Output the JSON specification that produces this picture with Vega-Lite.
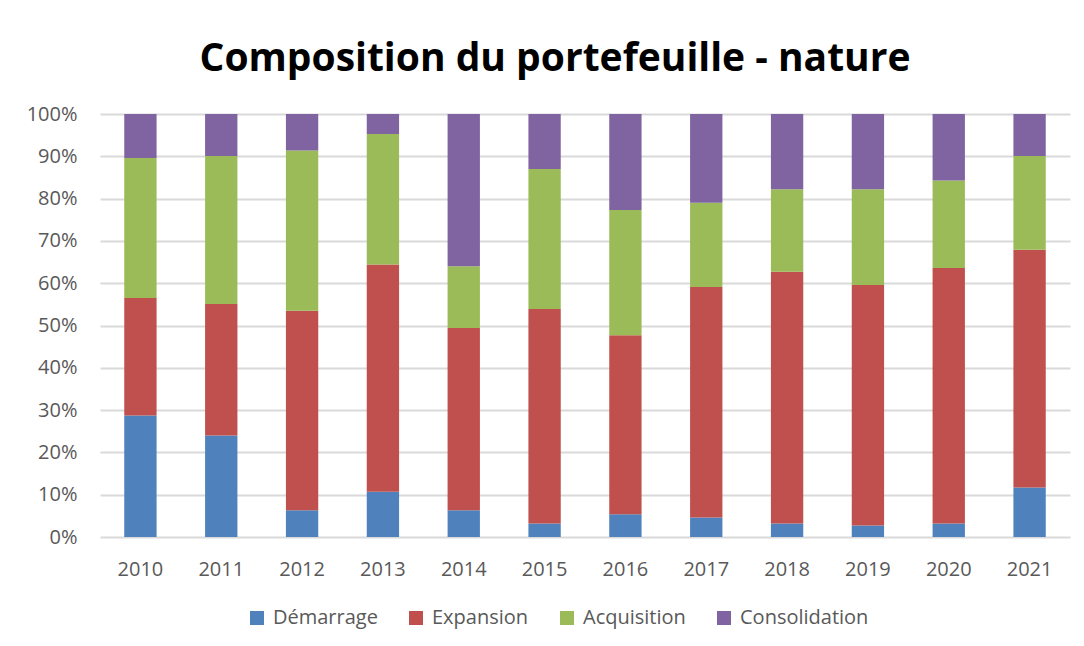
{
  "$schema": "https://vega.github.io/schema/vega-lite/v6.json",
  "autosize": "none",
  "width": 970,
  "height": 423,
  "padding": {"left": 100, "top": 114, "right": 14, "bottom": 109},
  "background": "white",
  "title": {
    "text": "Composition du portefeuille - nature",
    "font": "Open Sans",
    "fontSize": 39,
    "fontWeight": "bold",
    "color": "#000000",
    "anchor": "middle",
    "dx": -30,
    "offset": 25
  },
  "data": {
    "values": [
      {"annee": "2010", "nature": "Démarrage", "rang": 1, "part": 28.7},
      {"annee": "2010", "nature": "Expansion", "rang": 2, "part": 27.8},
      {"annee": "2010", "nature": "Acquisition", "rang": 3, "part": 33.1},
      {"annee": "2010", "nature": "Consolidation", "rang": 4, "part": 10.4},
      {"annee": "2011", "nature": "Démarrage", "rang": 1, "part": 24.0},
      {"annee": "2011", "nature": "Expansion", "rang": 2, "part": 31.1},
      {"annee": "2011", "nature": "Acquisition", "rang": 3, "part": 35.0},
      {"annee": "2011", "nature": "Consolidation", "rang": 4, "part": 9.9},
      {"annee": "2012", "nature": "Démarrage", "rang": 1, "part": 6.3},
      {"annee": "2012", "nature": "Expansion", "rang": 2, "part": 47.2},
      {"annee": "2012", "nature": "Acquisition", "rang": 3, "part": 37.9},
      {"annee": "2012", "nature": "Consolidation", "rang": 4, "part": 8.6},
      {"annee": "2013", "nature": "Démarrage", "rang": 1, "part": 10.7},
      {"annee": "2013", "nature": "Expansion", "rang": 2, "part": 53.7},
      {"annee": "2013", "nature": "Acquisition", "rang": 3, "part": 30.9},
      {"annee": "2013", "nature": "Consolidation", "rang": 4, "part": 4.7},
      {"annee": "2014", "nature": "Démarrage", "rang": 1, "part": 6.3},
      {"annee": "2014", "nature": "Expansion", "rang": 2, "part": 43.1},
      {"annee": "2014", "nature": "Acquisition", "rang": 3, "part": 14.6},
      {"annee": "2014", "nature": "Consolidation", "rang": 4, "part": 36.0},
      {"annee": "2015", "nature": "Démarrage", "rang": 1, "part": 3.2},
      {"annee": "2015", "nature": "Expansion", "rang": 2, "part": 50.7},
      {"annee": "2015", "nature": "Acquisition", "rang": 3, "part": 33.1},
      {"annee": "2015", "nature": "Consolidation", "rang": 4, "part": 13.0},
      {"annee": "2016", "nature": "Démarrage", "rang": 1, "part": 5.4},
      {"annee": "2016", "nature": "Expansion", "rang": 2, "part": 42.3},
      {"annee": "2016", "nature": "Acquisition", "rang": 3, "part": 29.6},
      {"annee": "2016", "nature": "Consolidation", "rang": 4, "part": 22.7},
      {"annee": "2017", "nature": "Démarrage", "rang": 1, "part": 4.6},
      {"annee": "2017", "nature": "Expansion", "rang": 2, "part": 54.5},
      {"annee": "2017", "nature": "Acquisition", "rang": 3, "part": 19.9},
      {"annee": "2017", "nature": "Consolidation", "rang": 4, "part": 21.0},
      {"annee": "2018", "nature": "Démarrage", "rang": 1, "part": 3.2},
      {"annee": "2018", "nature": "Expansion", "rang": 2, "part": 59.5},
      {"annee": "2018", "nature": "Acquisition", "rang": 3, "part": 19.5},
      {"annee": "2018", "nature": "Consolidation", "rang": 4, "part": 17.8},
      {"annee": "2019", "nature": "Démarrage", "rang": 1, "part": 2.7},
      {"annee": "2019", "nature": "Expansion", "rang": 2, "part": 56.9},
      {"annee": "2019", "nature": "Acquisition", "rang": 3, "part": 22.6},
      {"annee": "2019", "nature": "Consolidation", "rang": 4, "part": 17.8},
      {"annee": "2020", "nature": "Démarrage", "rang": 1, "part": 3.2},
      {"annee": "2020", "nature": "Expansion", "rang": 2, "part": 60.4},
      {"annee": "2020", "nature": "Acquisition", "rang": 3, "part": 20.7},
      {"annee": "2020", "nature": "Consolidation", "rang": 4, "part": 15.7},
      {"annee": "2021", "nature": "Démarrage", "rang": 1, "part": 11.7},
      {"annee": "2021", "nature": "Expansion", "rang": 2, "part": 56.2},
      {"annee": "2021", "nature": "Acquisition", "rang": 3, "part": 22.2},
      {"annee": "2021", "nature": "Consolidation", "rang": 4, "part": 9.9}
    ]
  },
  "mark": {"type": "bar"},
  "encoding": {
    "x": {
      "field": "annee",
      "type": "nominal",
      "scale": {"paddingInner": 0.6, "paddingOuter": 0.3},
      "axis": {
        "title": null,
        "labelAngle": 0,
        "labelFont": "Open Sans",
        "labelFontSize": 20,
        "labelColor": "#595959",
        "labelPadding": 22,
        "ticks": false,
        "domain": false
      }
    },
    "y": {
      "field": "part",
      "type": "quantitative",
      "stack": "normalize",
      "scale": {"domain": [0, 1]},
      "axis": {
        "title": null,
        "format": ".0%",
        "values": [0, 0.1, 0.2, 0.3, 0.4, 0.5, 0.6, 0.7, 0.8, 0.9, 1],
        "labelFont": "Open Sans",
        "labelFontSize": 20,
        "labelColor": "#595959",
        "labelPadding": 23,
        "ticks": false,
        "tickSize": 0,
        "domain": false,
        "grid": true,
        "gridColor": "#D9D9D9",
        "gridWidth": 2
      }
    },
    "order": {"field": "rang", "type": "quantitative", "sort": "ascending"},
    "color": {
      "field": "nature",
      "type": "nominal",
      "scale": {
        "domain": ["Démarrage", "Expansion", "Acquisition", "Consolidation"],
        "range": ["#4F81BD", "#C0504D", "#9BBB59", "#8064A2"]
      },
      "legend": {
        "title": null,
        "orient": "none",
        "legendX": 147,
        "legendY": 494,
        "direction": "horizontal",
        "symbolType": "square",
        "symbolSize": 196,
        "symbolStrokeWidth": 0,
        "labelFont": "Open Sans",
        "labelFontSize": 20,
        "labelColor": "#595959",
        "columnPadding": 28,
        "labelOffset": 6
      }
    }
  },
  "config": {
    "view": {"stroke": null}
  }
}
